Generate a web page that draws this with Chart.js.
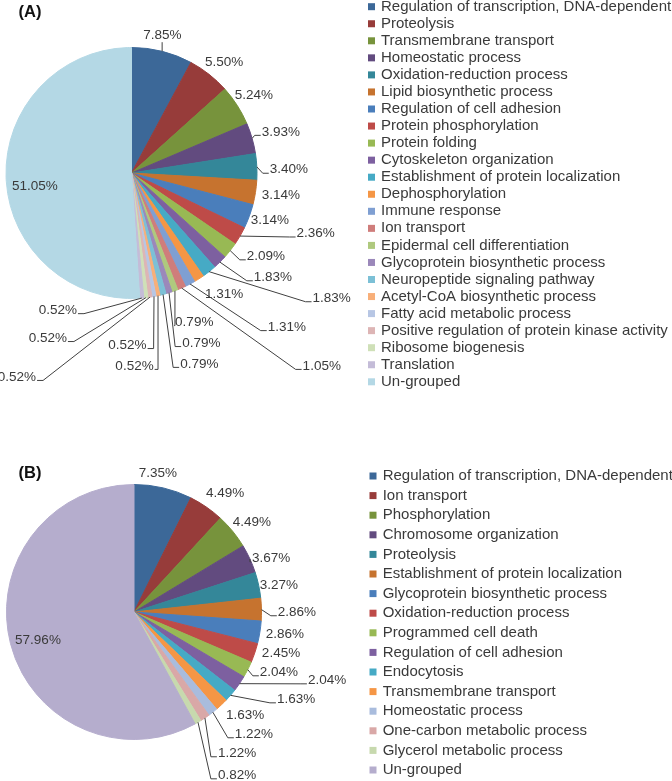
<!DOCTYPE html>
<html><head><meta charset="utf-8">
<script src="https://cdn.jsdelivr.net/npm/chart.js@4/dist/chart.umd.min.js"></script>
<style>
html,body{margin:0;padding:0;background:#fff;}
#wrap{position:relative;width:672px;height:781px;overflow:hidden;}
canvas{position:absolute;left:0;}
#cA{top:0;} #cB{top:390px;}
</style></head><body>
<div id="wrap"><canvas id="cA" width="672" height="390"></canvas><canvas id="cB" width="672" height="391"></canvas></div>
<script>
// ---------- Data: panel A ----------
const categoriesA = [
  'Regulation of transcription, DNA-dependent','Proteolysis','Transmembrane transport',
  'Homeostatic process','Oxidation-reduction process','Lipid biosynthetic process',
  'Regulation of cell adhesion','Protein phosphorylation','Protein folding',
  'Cytoskeleton organization','Establishment of protein localization','Dephosphorylation',
  'Immune response','Ion transport','Epidermal cell differentiation',
  'Glycoprotein biosynthetic process','Neuropeptide signaling pathway','Acetyl-CoA biosynthetic process',
  'Fatty acid metabolic process','Positive regulation of protein kinase activity','Ribosome biogenesis',
  'Translation','Un-grouped'
];
const valuesA = [7.85,5.50,5.24,3.93,3.40,3.14,3.14,2.36,2.09,1.83,1.83,1.31,1.31,1.05,0.79,0.79,0.79,0.52,0.52,0.52,0.52,0.52,51.05];

// ---------- Data: panel B ----------
const categoriesB = [
  'Regulation of transcription, DNA-dependent','Ion transport','Phosphorylation',
  'Chromosome organization','Proteolysis','Establishment of protein localization',
  'Glycoprotein biosynthetic process','Oxidation-reduction process','Programmed cell death',
  'Regulation of cell adhesion','Endocytosis','Transmembrane transport',
  'Homeostatic process','One-carbon metabolic process','Glycerol metabolic process','Un-grouped'
];
const valuesB = [7.35,4.49,4.49,3.67,3.27,2.86,2.86,2.45,2.04,2.04,1.63,1.63,1.22,1.22,0.82,57.96];

// ---------- Styles ----------
const colorsA = ['#3c6898','#973c3a','#77933c','#624b7f','#348799','#c6732f',
  '#4a7ebb','#be4b48','#98b954','#7d60a0','#46aac5','#f59645',
  '#7f9fd2','#cf7d7b','#afc97e','#9b88ba','#7cc0d6','#f8af79',
  '#b7c6e4','#ddb5b5','#cfe0b8','#c4bcd8','#b4d8e5'];
const colorsB = ['#3c6898','#973c3a','#77933c','#624b7f','#348799','#c6732f',
  '#4a7ebb','#be4b48','#98b954','#7d60a0','#46aac5','#f59645',
  '#a9bcdd','#d9a8a7','#c7d9ae','#b5adcd'];

// Label placement relative to pie centre, in units of the pie radius; third item = draw leader line
const labelLayoutA = [
  [0.246,-1.098,1],[0.738,-0.883,0],[0.976,-0.621,0],[1.190,-0.328,1],[1.254,-0.026,1],
  [1.190,0.180,0],[1.103,0.379,0],[1.468,0.482,1],[1.071,0.664,1],[1.127,0.831,1],
  [1.595,0.998,1],[0.738,0.966,0],[1.238,1.228,1],[1.516,1.537,1],[0.500,1.188,1],
  [0.556,1.355,1],[0.540,1.521,1],[0.024,1.537,1],[-0.032,1.371,1],[-0.913,1.625,1],
  [-0.667,1.315,1],[-0.587,1.093,1],[-0.770,0.109,0]
];
const labelLayoutB = [
  [0.188,-1.088,0],[0.714,-0.931,0],[0.925,-0.704,0],[1.075,-0.421,1],[1.137,-0.209,0],
  [1.278,0.002,1],[1.184,0.175,0],[1.153,0.324,0],[1.137,0.473,1],[1.514,0.536,1],
  [1.271,0.685,1],[0.871,0.810,0],[0.941,0.959,1],[0.808,1.108,1],[0.808,1.281,1],
  [-0.753,0.222,0]
];

const FONT = '"Liberation Sans", Arial, sans-serif';
const TEXT = '#3a3a3a';

const piePlugin = {
  id: 'pieDeco',
  afterDatasetsDraw(chart, args, opts) {
    const ctx = chart.ctx;
    const meta = chart.getDatasetMeta(0);
    const values = chart.data.datasets[0].data;
    ctx.save();
    ctx.font = '13.5px ' + FONT;
    ctx.fillStyle = TEXT;
    ctx.strokeStyle = '#404040';
    ctx.lineWidth = 1;
    ctx.textAlign = 'center';
    ctx.textBaseline = 'middle';
    meta.data.forEach((arc, i) => {
      const p = arc.getProps(['x','y','startAngle','endAngle','outerRadius'], true);
      const mid = (p.startAngle + p.endAngle) / 2;
      const px = p.x + Math.cos(mid) * p.outerRadius;
      const py = p.y + Math.sin(mid) * p.outerRadius;
      const lay = opts.layout[i];
      const lx = p.x + lay[0] * p.outerRadius;
      const ly = p.y + lay[1] * p.outerRadius;
      const txt = values[i].toFixed(2) + '%';
      const w = ctx.measureText(txt).width;
      if (lay[2]) {
        ctx.beginPath();
        if (Math.abs(px - lx) < w / 2) {
          const ey = py < ly ? ly - 7 : ly + 7;
          ctx.moveTo(px, py); ctx.lineTo(px, ey);
        } else {
          const side = lx > px ? 1 : -1;
          const ax = lx - side * (w / 2 + 1);
          const ay = ly + 3.5;
          let ex = ax - side * 6;
          if (side * (px - ex) > 0) ex = px;
          ctx.moveTo(px, py); ctx.lineTo(ex, ay); ctx.lineTo(ax, ay);
        }
        ctx.stroke();
      }
      ctx.fillText(txt, lx, ly);
    });
    ctx.restore();
  },
  afterDraw(chart, args, opts) {
    const ctx = chart.ctx;
    const ds = chart.data.datasets[0];
    const lg = opts.legend;
    ctx.save();
    ctx.font = '15px ' + FONT;
    ctx.textAlign = 'left';
    ctx.textBaseline = 'middle';
    chart.data.labels.forEach((lab, i) => {
      const cy = lg.top + i * lg.step;
      ctx.fillStyle = ds.backgroundColor[i];
      ctx.fillRect(lg.x, cy - lg.box / 2, lg.box, lg.box);
      ctx.fillStyle = TEXT;
      ctx.fillText(lab, lg.textX, cy);
    });
    ctx.font = 'bold 16.5px ' + FONT;
    ctx.fillStyle = '#111';
    ctx.textAlign = 'center';
    ctx.fillText(opts.title.text, opts.title.x, opts.title.y);
    ctx.restore();
  }
};

function makePie(id, labels, values, colors, layout, padding, legend, title) {
  return new Chart(document.getElementById(id), {
    type: 'pie',
    data: {
      labels: labels,
      datasets: [{
        data: values,
        backgroundColor: colors,
        borderColor: colors,
        borderWidth: 1
      }]
    },
    options: {
      responsive: false,
      animation: false,
      layout: { padding: padding },
      plugins: {
        legend: { display: false },
        tooltip: { enabled: false },
        pieDeco: { layout: layout, legend: legend, title: title }
      }
    },
    plugins: [piePlugin]
  });
}

makePie('cA', categoriesA, valuesA, colorsA, labelLayoutA,
  { left: 5, right: 414, top: 47, bottom: 91 },
  { x: 368, textX: 381, top: 6.7, step: 17.05, box: 7 },
  { text: '(A)', x: 30, y: 12 });

makePie('cB', categoriesB, valuesB, colorsB, labelLayoutB,
  { left: 6, right: 410, top: 94, bottom: 41 },
  { x: 369.5, textX: 382.7, top: 86, step: 19.6, box: 7 },
  { text: '(B)', x: 30, y: 83.3 });
</script>
</body></html>
